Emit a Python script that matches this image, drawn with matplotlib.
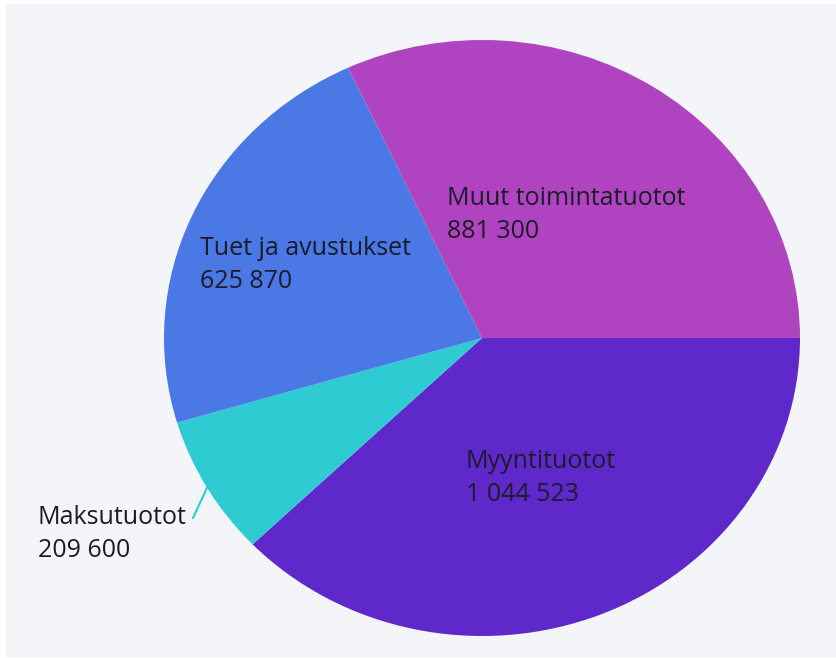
import numpy as np
import matplotlib
matplotlib.use('Agg')
import matplotlib.pyplot as plt
from matplotlib.patches import Rectangle

# data
categories = ['Myyntituotot', 'Maksutuotot', 'Tuet ja avustukset', 'Muut toimintatuotot']
values = [1044523, 209600, 625870, 881300]
value_labels = ['1 044 523', '209 600', '625 870', '881 300']
colors = ['#5f28ca', '#2ecbd3', '#4a78e4', '#b044c0']

W, H = 837, 658
fig = plt.figure(figsize=(W / 100, H / 100), dpi=100)
fig.patch.set_facecolor('white')

# background panel (pixel coordinates)
bg = fig.add_axes([0, 0, 1, 1])
bg.set_xlim(0, W)
bg.set_ylim(H, 0)
bg.axis('off')
bg.add_patch(Rectangle((6, 4), W - 6, H - 5, facecolor='#f4f5f9', edgecolor='none'))

# elliptical pie
cx, cy, rx, ry = 482, 338, 318, 298
pie_ax = fig.add_axes([(cx - rx) / W, 1 - (cy + ry) / H, 2 * rx / W, 2 * ry / H])
wedges, _ = pie_ax.pie(values, colors=colors, startangle=0, counterclock=False,
                       radius=1, wedgeprops=dict(linewidth=0))
pie_ax.set_aspect('auto')
pie_ax.set_xlim(-1, 1)
pie_ax.set_ylim(-1, 1)
pie_ax.axis('off')

# overlay layer for labels, on top of the pie
top = fig.add_axes([0, 0, 1, 1])
top.set_xlim(0, W)
top.set_ylim(H, 0)
top.axis('off')
top.patch.set_alpha(0)

# label anchors: left x, first baseline y (pixels)
label_pos = {
    'Myyntituotot': (466, 468),
    'Maksutuotot': (38, 524),
    'Tuet ja avustukset': (200, 255),
    'Muut toimintatuotot': (447, 205),
}
font = dict(family=['Open Sans', 'DejaVu Sans'], size=18, color='#1b1b2a')
for cat, vl in zip(categories, value_labels):
    x, y = label_pos[cat]
    top.text(x, y, cat, ha='left', va='baseline', **font)
    top.text(x, y + 33, vl, ha='left', va='baseline', **font)

# leader line for the small slice
w = wedges[1]
mid = np.deg2rad((w.theta1 + w.theta2) / 2)
sx, sy = cx + rx * np.cos(mid), cy - ry * np.sin(mid)
top.plot([sx, 193], [sy, 518], color=colors[1], lw=1.5)

fig.savefig('out.png', dpi=100, facecolor=fig.get_facecolor())
